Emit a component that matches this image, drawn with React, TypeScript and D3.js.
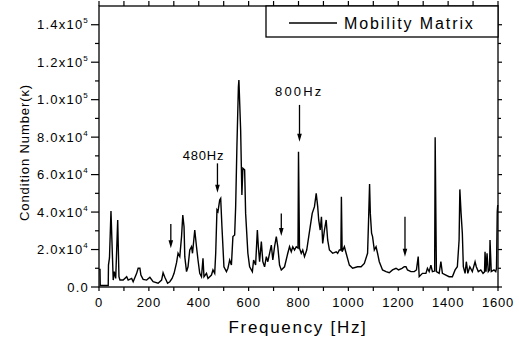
import React from "react";
import * as d3 from "d3";

// ---- Data (frequency in Hz, condition number) ----
const freqs: number[] = [
  0, 4, 5, 37, 38, 42, 48, 57, 61, 67, 75, 80, 84, 97, 111, 117, 131, 137, 151, 157,
  164, 168, 177, 191, 204, 217, 237, 251, 257, 264, 275, 284, 293, 301, 311, 317, 324, 331, 336, 341,
  344, 351, 357, 364, 371, 375, 384, 391, 397, 404, 411, 417, 421, 431, 437, 451, 457, 464, 468, 473,
  477, 484, 488, 493, 501, 511, 517, 524, 531, 537, 544, 548, 553, 559, 561, 568, 573, 577, 584, 588,
  597, 604, 615, 620, 628, 635, 639, 644, 651, 657, 664, 671, 677, 684, 691, 697, 704, 711, 717, 724,
  731, 744, 757, 764, 771, 777, 784, 791, 798, 800, 804, 811, 817, 824, 833, 841, 847, 855, 864, 871,
  877, 881, 887, 892, 897, 904, 911, 917, 924, 937, 951, 957, 964, 970, 972, 975, 984, 991, 1004, 1017,
  1037, 1051, 1064, 1077, 1081, 1085, 1088, 1093, 1097, 1104, 1111, 1117, 1124, 1137, 1151, 1164, 1177, 1191, 1201, 1215,
  1224, 1231, 1237, 1251, 1264, 1273, 1280, 1284, 1297, 1311, 1317, 1324, 1331, 1337, 1346, 1348, 1353, 1364, 1371, 1377,
  1391, 1404, 1417, 1428, 1437, 1444, 1447, 1452, 1457, 1461, 1468, 1473, 1479, 1487, 1497, 1508, 1513, 1521, 1531, 1540,
  1546, 1548, 1552, 1556, 1561, 1566, 1568, 1573, 1584, 1591, 1594, 1597, 1599,
];
const conditionNumbers: number[] = [
  9400, 9400, 800, 800, 11700, 15500, 40600, 3700, 8200, 4600, 35800, 5500, 3700, 3700, 5500, 3700, 4600, 2800, 7300, 10000,
  10000, 6400, 4100, 3700, 5200, 2800, 2000, 3700, 7600, 5200, 2000, 2800, 4600, 7300, 13000, 18000, 16200, 26900, 38400, 32200,
  16200, 8200, 10800, 19750, 21500, 18000, 30400, 21500, 14400, 7300, 5500, 15300, 5500, 7300, 4600, 6400, 9100, 7300, 18000, 41100,
  40200, 46400, 47300, 32200, 10800, 8200, 10000, 14400, 11700, 26900, 27800, 42900, 74900, 106900, 110500, 83800, 49100, 63400, 62500, 39300,
  18000, 10800, 8200, 14400, 11700, 30400, 21500, 13500, 24200, 13500, 10800, 16200, 13500, 18000, 22400, 14400, 21500, 26900, 21500, 11700,
  9100, 10800, 18000, 21500, 18800, 21500, 19750, 21500, 20800, 72200, 20700, 18000, 19750, 16200, 19750, 26900, 32200, 39300, 42900, 50000,
  42900, 35800, 30400, 37500, 23300, 30400, 35800, 25100, 19750, 18000, 18800, 18000, 19750, 19750, 48200, 18800, 21500, 18000, 11700, 10000,
  10800, 10800, 12600, 18000, 35800, 55000, 39300, 28700, 26900, 19750, 21500, 18000, 13500, 9100, 8200, 7600, 9100, 10000, 9100, 10000,
  10800, 10800, 9100, 8200, 8200, 9100, 16200, 5500, 7300, 7300, 10000, 8200, 11700, 8200, 8500, 79900, 8200, 7300, 13500, 7300,
  6400, 5500, 5500, 9100, 10800, 25100, 52100, 39300, 28700, 10800, 7300, 13500, 7300, 10800, 8200, 13500, 10800, 8200, 9100, 7300,
  8000, 18800, 8200, 18000, 8200, 9100, 25100, 8200, 9100, 8200, 10000, 40200, 43800,
];

const xTickValues = [0, 200, 400, 600, 800, 1000, 1200, 1400, 1600];
const xMinorTicks = [100, 300, 500, 700, 900, 1100, 1300, 1500];
const yTickValues = [0, 20000, 40000, 60000, 80000, 100000, 120000, 140000];
const yTickMantissa = ["0.0", "2.0x10", "4.0x10", "6.0x10", "8.0x10", "1.0x10", "1.2x10", "1.4x10"];
const yTickExponent = ["", "4", "4", "4", "4", "5", "5", "5"];
const yMinorTicks = [10000, 30000, 50000, 70000, 90000, 110000, 130000];

// Annotation arrows: frequency, value at tail, value at tip
const arrowFreqs = [288, 475, 731, 804, 1227];
const arrowTail = [33600, 66000, 39300, 97200, 37500];
const arrowTip = [20700, 50300, 27200, 77600, 16200];
const annotationText = ["480Hz", "800Hz"];
const annotationFreq = [419, 803];
const annotationValue = [67800, 102000];

const seriesName = "Mobility Matrix";
const xTitle = "Frequency [Hz]";
const yTitle = "Condition Number(κ)";

const W = 519;
const H = 341;
const L = 99, R = 498, T = 6, B = 287;
const FONT = "'Liberation Sans', Arial, sans-serif";

export default function App() {
  const x = d3.scaleLinear().domain([0, 1600]).range([L, R]);
  const y = d3.scaleLinear().domain([0, 150000]).range([B, T]);
  const pts: [number, number][] = freqs.map((f, i) => [f, conditionNumbers[i]]);
  const line = d3
    .line<[number, number]>()
    .x((d) => x(d[0]))
    .y((d) => y(d[1]));
  const path = line(pts) || "";

  const allX = [...xTickValues, ...xMinorTicks];
  const allY = [...yTickValues, ...yMinorTicks];

  return (
    <svg
      width={W}
      height={H}
      style={{ position: "fixed", left: 0, top: 0, background: "#fff" }}
      fontFamily={FONT}
    >
      <rect x={0} y={0} width={W} height={H} fill="#fff" />
      {/* data line */}
      <path d={path} fill="none" stroke="#000" strokeWidth={1.4} strokeLinejoin="miter" />

      {/* frame */}
      <rect x={L} y={T} width={R - L} height={B - T} fill="none" stroke="#000" strokeWidth={1.3} />

      {/* bottom & top ticks */}
      {allX.map((v, i) => (
        <g key={"xt" + i}>
          <line x1={x(v)} x2={x(v)} y1={B} y2={B + 4} stroke="#000" strokeWidth={1.2} />
          <line x1={x(v)} x2={x(v)} y1={T} y2={T - 5} stroke="#000" strokeWidth={1.2} />
        </g>
      ))}
      {xTickValues.map((v, i) => (
        <text
          key={"xl" + i}
          x={x(v)}
          y={307}
          textAnchor="middle"
          fontSize={13}
          letterSpacing={0.8}
        >
          {String(v)}
        </text>
      ))}

      {/* left & right ticks */}
      {yTickValues.map((v, i) => (
        <g key={"yt" + i}>
          <line x1={L - 8} x2={L} y1={y(v)} y2={y(v)} stroke="#000" strokeWidth={1.2} />
          <line x1={R} x2={R + 4} y1={y(v)} y2={y(v)} stroke="#000" strokeWidth={1.2} />
        </g>
      ))}
      {yMinorTicks.map((v, i) => (
        <g key={"ym" + i}>
          <line x1={L - 4} x2={L} y1={y(v)} y2={y(v)} stroke="#000" strokeWidth={1.2} />
          <line x1={R} x2={R + 3} y1={y(v)} y2={y(v)} stroke="#000" strokeWidth={1.2} />
        </g>
      ))}
      {yTickValues.map((v, i) => (
        <text
          key={"yl" + i}
          x={89}
          y={y(v) + 4.5}
          textAnchor="end"
          fontSize={13}
          letterSpacing={1.2}
        >
          {yTickMantissa[i]}
          {yTickExponent[i] ? (
            <tspan fontSize={8} dy={-6}>
              {yTickExponent[i]}
            </tspan>
          ) : null}
        </text>
      ))}

      {/* axis titles */}
      <text x={298} y={333} textAnchor="middle" fontSize={17} letterSpacing={1.7}>
        {xTitle}
      </text>
      <text
        transform={`translate(28.5,${(T + B) / 2 + 6}) rotate(-90)`}
        textAnchor="middle"
        fontSize={13}
        letterSpacing={0.9}
      >
        {yTitle}
      </text>

      {/* arrows */}
      {arrowFreqs.map((f, i) => {
        const ax = x(f);
        const y0 = y(arrowTail[i]);
        const y1 = y(arrowTip[i]);
        return (
          <g key={"ar" + i}>
            <line x1={ax} x2={ax} y1={y0} y2={y1 - 6} stroke="#000" strokeWidth={1.3} />
            <path d={`M${ax - 2.3},${y1 - 8} L${ax + 2.3},${y1 - 8} L${ax},${y1} Z`} fill="#000" />
          </g>
        );
      })}
      {annotationText.map((t, i) => (
        <text
          key={"an" + i}
          x={x(annotationFreq[i])}
          y={y(annotationValue[i])}
          textAnchor="middle"
          fontSize={13}
          letterSpacing={i === 1 ? 2.2 : 0.8}
        >
          {t}
        </text>
      ))}

      {/* legend */}
      <rect x={266} y={T} width={R - 266} height={31} fill="#fff" stroke="#000" strokeWidth={1.3} />
      <line x1={289} x2={337} y1={23} y2={23} stroke="#000" strokeWidth={1.4} />
      <text x={344} y={29} fontSize={16} letterSpacing={1.9}>
        {seriesName}
      </text>
    </svg>
  );
}
